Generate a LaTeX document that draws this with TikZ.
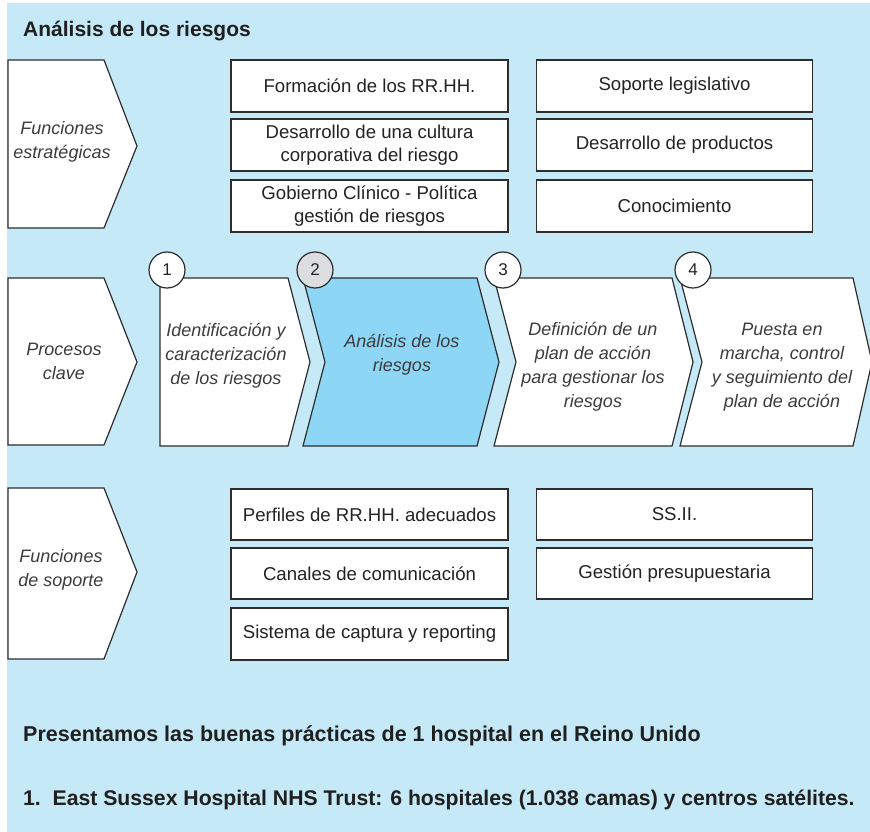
\documentclass[tikz,border=0pt]{standalone}
\usepackage{fontspec}
\setmainfont{Liberation Sans}
\definecolor{panel}{RGB}{198,233,248}
\definecolor{hilite}{RGB}{141,214,245}
\definecolor{stroke}{RGB}{45,45,45}
\definecolor{boxtext}{RGB}{35,35,35}
\definecolor{softtext}{RGB}{60,60,60}
\definecolor{disc}{RGB}{220,221,223}
\tikzset{
  outline/.style={draw=stroke, line width=1.2pt, line join=miter},
  listbox/.style={outline, fill=white, inner sep=0pt, align=center,
    text=boxtext, font=\fontsize{18.6}{23}\selectfont},
  arrowshape/.style={outline, fill=white},
  arrowlabel/.style={align=center, text=softtext,
    font=\fontsize{18}{24}\selectfont\itshape},
  stepdisc/.style={outline, circle, fill=white, minimum size=36pt, inner sep=0pt,
    text=boxtext, font=\fontsize{17}{20}\selectfont},
  heading/.style={anchor=base west, inner sep=0pt, text=black!88,
    font=\fontsize{21}{25}\selectfont\bfseries},
  note/.style={heading, font=\fontsize{21.5}{25}\selectfont\bfseries},
}
\begin{document}
\begin{tikzpicture}[x=1pt,y=-1pt]
\useasboundingbox (0,0) rectangle (870,832);
\fill[panel] (7,3) rectangle (870,832);

% title
\node[heading] (title) at (23,37) {Análisis de los riesgos};

% left-hand category arrows
\draw[arrowshape] (8,60) -- (104,60) -- (137,146) -- (104,228) -- (8,228) -- cycle;
\node[arrowlabel] (estr) at (62,142) {Funciones\\estratégicas};
\draw[arrowshape] (8,278) -- (104,278) -- (137,362) -- (104,445) -- (8,445) -- cycle;
\node[arrowlabel] (proc) at (64,361) {Procesos\\clave};
\draw[arrowshape] (8,488) -- (104,488) -- (137,572) -- (104,659) -- (8,659) -- cycle;
\node[arrowlabel] (sop) at (61,570) {Funciones\\de soporte};

% strategic functions
\node[listbox, minimum width=277pt, minimum height=52pt] (f1) at (369.5,86) {Formación de los RR.HH.};
\node[listbox, minimum width=277pt, minimum height=52pt] (f2) at (369.5,145) {Desarrollo de una cultura\\corporativa del riesgo};
\node[listbox, minimum width=277pt, minimum height=52pt] (f3) at (369.5,206) {Gobierno Clínico - Política\\gestión de riesgos};
\node[listbox, minimum width=276pt, minimum height=52pt] (f4) at (674.5,86) {Soporte legislativo};
\node[listbox, minimum width=276pt, minimum height=52pt] (f5) at (674.5,145) {Desarrollo de productos};
\node[listbox, minimum width=276pt, minimum height=52pt] (f6) at (674.5,206) {Conocimiento};

% key process chain
\draw[arrowshape] (160,278) -- (288,278) -- (310,362) -- (288,446) -- (160,446) -- cycle;
\draw[arrowshape, fill=hilite] (303,278) -- (477,278) -- (499,362) -- (477,446) -- (303,446) -- (325,362) -- cycle;
\draw[arrowshape] (494,278) -- (672,278) -- (693,362) -- (672,446) -- (494,446) -- (516,362) -- cycle;
\draw[arrowshape] (680,278) -- (853,278) -- (872,362) -- (853,446) -- (680,446) -- (702,362) -- cycle;
\node[arrowlabel] (p1) at (226,356) {Identificación y\\caracterización\\de los riesgos};
\node[arrowlabel] (p2) at (402,355) {Análisis de los\\riesgos};
\node[arrowlabel] (p3) at (593,367) {Definición de un\\plan de acción\\para gestionar los\\riesgos};
\node[arrowlabel] (p4) at (782,367) {Puesta en\\marcha, control\\y seguimiento del\\plan de acción};
\node[stepdisc] (n1) at (167,270) {1};
\node[stepdisc, fill=disc] (n2) at (315,270) {2};
\node[stepdisc] (n3) at (503,270) {3};
\node[stepdisc] (n4) at (693,270) {4};

% support functions
\node[listbox, minimum width=277pt, minimum height=51pt] (s1) at (369.5,514.5) {Perfiles de RR.HH. adecuados};
\node[listbox, minimum width=277pt, minimum height=51pt] (s2) at (369.5,573.5) {Canales de comunicación};
\node[listbox, minimum width=277pt, minimum height=52pt] (s3) at (369.5,634) {Sistema de captura y reporting};
\node[listbox, minimum width=276pt, minimum height=51pt] (s4) at (674.5,514.5) {SS.II.};
\node[listbox, minimum width=276pt, minimum height=51pt] (s5) at (674.5,573.5) {Gestión presupuestaria};

% closing notes
\node[note] (note1) at (23,741) {Presentamos las buenas prácticas de 1 hospital en el Reino Unido};
\node[note, font=\fontsize{21.2}{25}\selectfont\bfseries] (note2) at (23,805) {1.\ \ East Sussex Hospital NHS Trust: 6 hospitales (1.038 camas) y centros satélites.};
\end{tikzpicture}
\end{document}
